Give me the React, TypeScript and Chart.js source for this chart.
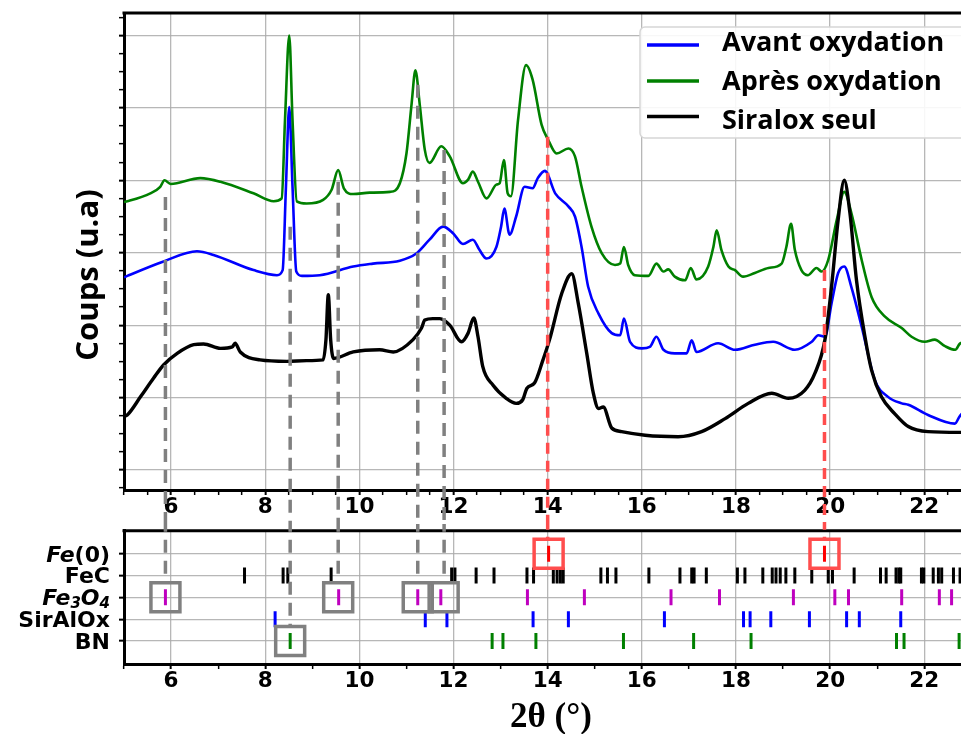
import { useEffect, useRef } from 'react';
import { Chart, registerables } from 'chart.js';
Chart.register(...registerables);

// ---------- DATA (2θ in degrees, counts in arbitrary units) ----------
const avantOxydation: [number, number][] = [
  [5.0, 2.66], [5.07, 2.68], [5.84, 2.88], [6.55, 3.02], [6.9, 2.97], [7.75, 2.76], [8.25, 2.69],
  [8.37, 2.76], [8.44, 3.91], [8.51, 5.01], [8.58, 3.91], [8.66, 2.74], [8.78, 2.68], [9.16, 2.69],
  [9.87, 2.81], [10.29, 2.85], [10.86, 2.89], [11.21, 2.99], [11.49, 3.18], [11.78, 3.36], [11.99, 3.27],
  [12.2, 3.12], [12.41, 3.18], [12.55, 3.04], [12.7, 2.92], [12.91, 3.08], [13.01, 3.36], [13.08, 3.61],
  [13.19, 3.25], [13.33, 3.5], [13.51, 3.91], [13.68, 3.89], [13.79, 4.03], [13.94, 4.13], [14.16, 3.82],
  [14.44, 3.64], [14.58, 3.5], [14.72, 3.08], [14.86, 2.53], [15.08, 2.16], [15.36, 1.89], [15.54, 1.86],
  [15.62, 2.09], [15.75, 1.77], [16.0, 1.68], [16.17, 1.7], [16.31, 1.84], [16.46, 1.66], [16.7, 1.61],
  [16.95, 1.61], [17.06, 1.79], [17.16, 1.63], [17.62, 1.75], [17.98, 1.66], [18.4, 1.73], [18.79, 1.77],
  [19.25, 1.66], [19.61, 1.77], [19.75, 1.86], [19.89, 1.84], [20.03, 2.3], [20.17, 2.72], [20.3, 2.81],
  [20.45, 2.53], [20.67, 1.98], [20.95, 1.24], [21.23, 1.01], [21.52, 0.92], [21.66, 0.9], [22.08, 0.76],
  [22.65, 0.64], [22.75, 0.74], [22.8, 0.78],
];

const apresOxydation: [number, number][] = [
  [5.0, 3.7], [5.07, 3.71], [5.56, 3.82], [5.77, 3.91], [5.86, 4.0], [5.99, 3.95], [6.62, 4.03],
  [7.05, 3.98], [7.75, 3.82], [8.18, 3.71], [8.35, 3.75], [8.42, 4.83], [8.51, 6.0], [8.58, 4.83],
  [8.67, 3.71], [8.88, 3.68], [9.23, 3.73], [9.41, 3.87], [9.55, 4.14], [9.67, 3.89], [9.87, 3.81],
  [10.22, 3.83], [10.65, 3.84], [10.86, 3.96], [11.0, 4.37], [11.11, 5.06], [11.19, 5.52], [11.28, 5.06],
  [11.39, 4.42], [11.49, 4.24], [11.74, 4.47], [11.92, 4.33], [12.2, 3.96], [12.31, 4.01], [12.41, 4.12],
  [12.52, 3.98], [12.7, 3.75], [12.91, 3.94], [12.98, 3.96], [13.07, 4.28], [13.15, 3.82], [13.22, 3.78],
  [13.37, 4.83], [13.54, 5.59], [13.68, 5.39], [13.87, 4.77], [14.01, 4.56], [14.19, 4.37], [14.44, 4.44],
  [14.58, 4.33], [14.72, 3.91], [14.93, 3.36], [15.15, 2.99], [15.43, 2.83], [15.54, 2.85], [15.62, 3.08],
  [15.71, 2.83], [15.85, 2.69], [16.14, 2.68], [16.31, 2.85], [16.46, 2.74], [16.56, 2.77], [16.7, 2.67],
  [16.92, 2.62], [17.04, 2.79], [17.16, 2.63], [17.41, 2.81], [17.52, 3.08], [17.59, 3.31], [17.69, 3.04],
  [17.84, 2.81], [17.98, 2.76], [18.15, 2.67], [18.4, 2.72], [18.69, 2.79], [18.97, 2.85], [19.07, 3.08],
  [19.17, 3.4], [19.25, 3.04], [19.39, 2.76], [19.53, 2.69], [19.71, 2.79], [19.82, 2.74], [19.96, 2.9],
  [20.14, 3.45], [20.3, 3.84], [20.45, 3.55], [20.67, 2.9], [20.88, 2.39], [21.16, 2.12], [21.52, 1.96],
  [21.73, 1.84], [22.01, 1.77], [22.22, 1.8], [22.44, 1.71], [22.66, 1.66], [22.75, 1.74], [22.8, 1.76],
];

const siraloxSeul: [number, number][] = [
  [5.0, 0.74], [5.07, 0.76], [5.35, 1.01], [5.63, 1.27], [5.84, 1.45], [6.13, 1.61], [6.48, 1.73],
  [6.69, 1.74], [7.05, 1.68], [7.3, 1.7], [7.36, 1.75], [7.47, 1.63], [7.89, 1.52], [8.46, 1.5],
  [8.88, 1.51], [9.23, 1.52], [9.29, 1.8], [9.34, 2.42], [9.39, 1.8], [9.45, 1.54], [9.87, 1.63],
  [10.43, 1.66], [10.72, 1.63], [11.14, 1.8], [11.32, 1.96], [11.39, 2.07], [11.56, 2.09], [11.71, 2.09],
  [11.92, 2.0], [12.17, 1.77], [12.31, 1.89], [12.43, 2.1], [12.52, 1.84], [12.62, 1.43], [12.84, 1.17],
  [13.12, 0.99], [13.33, 0.92], [13.47, 0.97], [13.56, 1.13], [13.72, 1.2], [13.9, 1.52], [14.04, 1.8],
  [14.3, 2.44], [14.51, 2.71], [14.65, 2.3], [14.83, 1.61], [14.97, 1.06], [15.08, 0.85], [15.18, 0.87],
  [15.36, 0.58], [15.57, 0.53], [16.07, 0.48], [16.77, 0.46], [17.27, 0.53], [17.77, 0.71], [18.26, 0.92],
  [18.76, 1.06], [19.11, 0.99], [19.46, 1.1], [19.68, 1.34], [19.89, 1.8], [20.03, 2.53], [20.17, 3.45],
  [20.3, 4.0], [20.42, 3.55], [20.56, 2.62], [20.74, 1.84], [20.88, 1.38], [21.09, 1.01], [21.37, 0.78],
  [21.66, 0.6], [22.08, 0.53], [22.75, 0.52], [22.8, 0.52],
];

const seriesNames = ['Avant oxydation', 'Après oxydation', 'Siralox seul'];
const xTickLabels = [6, 8, 10, 12, 14, 16, 18, 20, 22];

// reference lines (2θ), where they start on the top panel, and the phase row they lead to
const grayRefLines = [5.88, 8.53, 9.55, 11.24, 11.8];
const grayLineTops = [3.77, 3.36, 3.98, 5.32, 4.42];
const grayLineRows = [2, 4, 2, 2, 2];
const redRefLines = [14.0, 19.88];
const redLineTops = [4.6, 2.76];
const redLineRows = [0, 0];

// bottom panel: phases and their reflections
const phaseRows = ['Fe(0)', 'FeC', 'Fe3O4', 'SirAlOx', 'BN'];
const fe0Peaks = [14.02, 19.88];
const fecPeaks = [7.56, 8.38, 8.48, 9.4, 11.96, 12.03, 12.48, 12.86, 13.56, 13.7, 14.12, 14.2, 14.27, 14.33,
  15.13, 15.27, 15.45, 16.15, 16.81, 17.06, 17.11, 17.37, 18.03, 18.19, 18.57, 18.77, 18.85, 18.94, 19.06,
  19.25, 19.61, 19.96, 20.05, 20.51, 21.07, 21.19, 21.4, 21.46, 21.5, 21.94, 21.99, 22.19, 22.3, 22.37, 22.62, 22.76];
const fe3o4Peaks = [5.88, 9.56, 11.24, 11.73, 13.57, 14.78, 16.62, 17.65, 19.22, 20.1, 20.39, 21.52, 22.32, 22.58];
const siraloxPeaks = [8.21, 11.4, 11.86, 13.69, 14.44, 16.48, 18.16, 18.3, 18.74, 19.56, 20.35, 20.62, 21.5];
const bnPeaks = [8.53, 12.82, 13.05, 13.75, 15.61, 17.1, 18.32, 21.41, 21.57, 22.74];
const grayBoxes: [number, number][] = [[5.88, 2], [9.55, 2], [11.24, 2], [11.79, 2], [8.53, 4]];
const redBoxes: [number, number][] = [[14.02, 0], [19.88, 0]];

// ---------- STYLE ----------
const GRID = 'rgba(170,170,170,0.85)';
const GRAY_DASH = '#808080';
const RED_DASH = '#ff4d4d';
const X_MIN = 5;
const X_MAX = 22.78;
const TICK_FONT = { family: 'DejaVu Sans', weight: 'bold' as const, size: 21.5 };

const near = (v: number, t: number) => Math.abs(v - t) < 1e-6;
const isEven = (v: number) => xTickLabels.some((t) => near(t, v));
const isInt = (v: number) => near(v, Math.round(v));

const toXY = (arr: [number, number][]) => arr.map(([x, y]) => ({ x, y }));

const topDecor = {
  id: 'topDecor',
  beforeDatasetsDraw(chart: any) {
    const { ctx, chartArea } = chart;
    ctx.save();
    ctx.strokeStyle = '#000';
    ctx.lineWidth = 3;
    ctx.beginPath();
    ctx.moveTo(chartArea.left - 1.5, chartArea.top);
    ctx.lineTo(chartArea.right + 2, chartArea.top);
    ctx.stroke();
    ctx.restore();
  },
  afterDraw(chart: any) {
    const { ctx } = chart;
    ctx.save();
    // y axis title
    ctx.translate(89, 275);
    ctx.rotate(-Math.PI / 2);
    ctx.font = 'bold 31px "Open Sans"';
    ctx.fillStyle = '#000';
    ctx.textAlign = 'center';
    ctx.textBaseline = 'middle';
    ctx.fillText('Coups (u.a)', 0, 0);
    ctx.restore();

    // legend
    ctx.save();
    const bx = 640, by = 27, bw = 340, bh = 111, r = 5;
    ctx.beginPath();
    ctx.moveTo(bx + r, by);
    ctx.lineTo(bx + bw, by);
    ctx.lineTo(bx + bw, by + bh);
    ctx.lineTo(bx + r, by + bh);
    ctx.arcTo(bx, by + bh, bx, by + bh - r, r);
    ctx.lineTo(bx, by + r);
    ctx.arcTo(bx, by, bx + r, by, r);
    ctx.closePath();
    ctx.fillStyle = 'rgba(255,255,255,0.9)';
    ctx.fill();
    ctx.strokeStyle = '#d6d6d6';
    ctx.lineWidth = 1.5;
    ctx.stroke();
    const colors = ['#0000ff', '#008000', '#000000'];
    const lineYs = [45, 81, 116.5];
    const textYs = [50.5, 89.5, 128.5];
    ctx.font = 'bold 27px "Open Sans"';
    ctx.textAlign = 'left';
    ctx.textBaseline = 'alphabetic';
    seriesNames.forEach((name, i) => {
      ctx.strokeStyle = colors[i];
      ctx.lineWidth = 3.5;
      ctx.beginPath();
      ctx.moveTo(647, lineYs[i]);
      ctx.lineTo(699, lineYs[i]);
      ctx.stroke();
      ctx.fillStyle = '#000';
      ctx.fillText(name, 722, textYs[i]);
    });
    ctx.restore();
  },
};

const phaseLabelParts: { t: string; it: boolean; sub: boolean }[][] = [
  [{ t: 'Fe', it: true, sub: false }, { t: '(0)', it: false, sub: false }],
  [{ t: 'FeC', it: false, sub: false }],
  [{ t: 'Fe', it: true, sub: false }, { t: '3', it: true, sub: true }, { t: 'O', it: true, sub: false }, { t: '4', it: true, sub: true }],
  [{ t: 'SirAlOx', it: false, sub: false }],
  [{ t: 'BN', it: false, sub: false }],
];

const bottomDecor = {
  id: 'bottomDecor',
  beforeDatasetsDraw(chart: any) {
    const { ctx, chartArea } = chart;
    ctx.save();
    ctx.strokeStyle = '#000';
    ctx.lineWidth = 3;
    ctx.beginPath();
    ctx.moveTo(chartArea.left - 1.5, chartArea.top);
    ctx.lineTo(chartArea.right + 2, chartArea.top);
    ctx.stroke();
    ctx.restore();
  },
  afterDraw(chart: any) {
    const { ctx } = chart;
    const yScale = chart.scales.y;
    ctx.save();
    ctx.fillStyle = '#000';
    ctx.textBaseline = 'alphabetic';
    ctx.textAlign = 'left';
    const mainSize = 22, subSize = 15;
    phaseLabelParts.forEach((parts, i) => {
      const base = yScale.getPixelForValue(i) + 8;
      const fontFor = (p: any) =>
        `${p.it ? 'italic ' : ''}bold ${p.sub ? subSize : mainSize}px "DejaVu Sans"`;
      let total = 0;
      parts.forEach((p) => {
        ctx.font = fontFor(p);
        total += ctx.measureText(p.t).width;
      });
      let x = 110 - total;
      parts.forEach((p) => {
        ctx.font = fontFor(p);
        ctx.fillText(p.t, x, base + (p.sub ? 3 : 0));
        x += ctx.measureText(p.t).width;
      });
    });
    // x axis title
    ctx.font = 'bold 35px "Liberation Serif"';
    ctx.textAlign = 'center';
    ctx.fillText('2θ (°)', 551, 202.5);
    ctx.restore();
  },
};

function TopChart() {
  const ref = useRef<HTMLCanvasElement>(null);
  useEffect(() => {
    const dashSets: any[] = [];
    grayRefLines.forEach((x, i) => {
      dashSets.push({
        type: 'line', data: [{ x, y: grayLineTops[i] }, { x, y: -1.2 }],
        borderColor: GRAY_DASH, borderWidth: 3.5, borderDash: [13, 8], pointRadius: 0, clip: false, order: 0,
      });
    });
    redRefLines.forEach((x, i) => {
      dashSets.push({
        type: 'line', data: [{ x, y: redLineTops[i] }, { x, y: -1.2 }],
        borderColor: RED_DASH, borderWidth: 3.5, borderDash: [11, 7], pointRadius: 0, clip: false, order: 0,
      });
    });
    const chart = new Chart(ref.current as HTMLCanvasElement, {
      type: 'line',
      data: {
        datasets: [
          ...dashSets,
          { label: seriesNames[0], data: toXY(avantOxydation), borderColor: '#0000ff', borderWidth: 2.6, pointRadius: 0, cubicInterpolationMode: 'monotone', order: 3 },
          { label: seriesNames[1], data: toXY(apresOxydation), borderColor: '#008000', borderWidth: 2.6, pointRadius: 0, cubicInterpolationMode: 'monotone', order: 2 },
          { label: seriesNames[2], data: toXY(siraloxSeul), borderColor: '#000000', borderWidth: 3.4, pointRadius: 0, cubicInterpolationMode: 'monotone', order: 1 },
        ],
      },
      options: {
        animation: false,
        responsive: false,
        events: [],
        layout: { autoPadding: false, padding: { left: 0, right: 0, top: 13, bottom: 0 } },
        plugins: { legend: { display: false }, tooltip: { enabled: false } },
        scales: {
          x: {
            type: 'linear', min: X_MIN, max: X_MAX,
            afterFit: (s: any) => { s.height = 34; },
            ticks: {
              stepSize: 0.5, autoSkip: false, includeBounds: false, maxRotation: 0, minRotation: 0, padding: 0,
              color: '#000', font: TICK_FONT,
              callback: (v: any) => (isEven(Number(v)) ? String(Math.round(Number(v))) : ''),
            },
            grid: {
              color: (c: any) => (isEven(c.tick.value) ? GRID : 'rgba(0,0,0,0)'),
              lineWidth: 1.3, tickColor: '#000', tickLength: 5,
              tickWidth: (c: any) => (isEven(c.tick.value) ? 2 : 1.5),
            },
            border: { color: '#000', width: 3 },
          },
          y: {
            type: 'linear', min: -0.276, max: 6.31,
            afterFit: (s: any) => { s.width = 124; },
            ticks: {
              stepSize: 0.25, autoSkip: false, includeBounds: false, padding: 0,
              font: { size: 6 }, callback: () => '',
            },
            grid: {
              color: (c: any) => (isInt(c.tick.value) ? GRID : 'rgba(0,0,0,0)'),
              lineWidth: 1.3, tickColor: '#000', tickLength: 5,
              tickWidth: (c: any) => (isInt(c.tick.value) ? 2 : 1.5),
            },
            border: { color: '#000', width: 3 },
          },
        },
      } as any,
      plugins: [topDecor],
    } as any);
    return () => chart.destroy();
  }, []);
  return (
    <canvas
      ref={ref}
      width={961}
      height={524}
      style={{ position: 'absolute', left: 0, top: 0, width: 961, height: 524 }}
    />
  );
}

function BottomChart() {
  const ref = useRef<HTMLCanvasElement>(null);
  useEffect(() => {
    const datasets: any[] = [];
    grayRefLines.forEach((x, i) => {
      datasets.push({
        type: 'line', data: [{ x, y: -1.6 }, { x, y: grayLineRows[i] - 0.68 }], showLine: true,
        borderColor: GRAY_DASH, borderWidth: 3.5, borderDash: [13, 8], pointRadius: 0, clip: false, order: 0,
      });
    });
    redRefLines.forEach((x, i) => {
      datasets.push({
        type: 'line', data: [{ x, y: -1.6 }, { x, y: redLineRows[i] - 0.68 }], showLine: true,
        borderColor: RED_DASH, borderWidth: 3.5, borderDash: [11, 7], pointRadius: 0, clip: false, order: 0,
      });
    });
    datasets.push({
      data: grayBoxes.map(([x, y]) => ({ x, y })), pointStyle: 'rect', pointRadius: 20.5,
      borderColor: GRAY_DASH, borderWidth: 3.5, backgroundColor: 'rgba(0,0,0,0)', order: 1,
    });
    datasets.push({
      data: redBoxes.map(([x, y]) => ({ x, y })), pointStyle: 'rect', pointRadius: 20.5,
      borderColor: RED_DASH, borderWidth: 3.5, backgroundColor: 'rgba(0,0,0,0)', order: 1,
    });
    const phases: [number[], string][] = [
      [fe0Peaks, '#ff0000'], [fecPeaks, '#000000'], [fe3o4Peaks, '#bf00bf'], [siraloxPeaks, '#0000ff'], [bnPeaks, '#008000'],
    ];
    phases.forEach(([peaks, color], row) => {
      datasets.push({
        label: phaseRows[row],
        data: peaks.map((x) => ({ x, y: row })), pointStyle: 'line', pointRotation: 90, pointRadius: 8,
        borderColor: color, borderWidth: 3, order: 2,
      });
    });
    const chart = new Chart(ref.current as HTMLCanvasElement, {
      type: 'scatter',
      data: { datasets },
      options: {
        animation: false,
        responsive: false,
        events: [],
        layout: { autoPadding: false, padding: { left: 0, right: 0, top: 6.7, bottom: 0 } },
        plugins: { legend: { display: false }, tooltip: { enabled: false } },
        scales: {
          x: {
            type: 'linear', min: X_MIN, max: X_MAX,
            afterFit: (s: any) => { s.height = 70; },
            ticks: {
              stepSize: 1, autoSkip: false, includeBounds: false, maxRotation: 0, minRotation: 0, padding: 0,
              color: '#000', font: TICK_FONT,
              callback: (v: any) => (isEven(Number(v)) ? String(Math.round(Number(v))) : ''),
            },
            grid: {
              color: (c: any) => (isEven(c.tick.value) ? GRID : 'rgba(0,0,0,0)'),
              lineWidth: 1.3, tickColor: '#000', tickLength: 5,
              tickWidth: (c: any) => (isEven(c.tick.value) ? 2 : 1.5),
            },
            border: { color: '#000', width: 3 },
          },
          y: {
            type: 'linear', min: -1.05, max: 5.05, reverse: true,
            afterFit: (s: any) => { s.width = 124; },
            afterBuildTicks: (s: any) => { s.ticks = phaseRows.map((_, i) => ({ value: i })); },
            ticks: { autoSkip: false, padding: 0, font: { size: 6 }, callback: () => '' },
            grid: { color: GRID, lineWidth: 1.3, tickColor: '#000', tickLength: 5, tickWidth: 2 },
            border: { color: '#000', width: 3 },
          },
        },
      } as any,
      plugins: [bottomDecor],
    } as any);
    return () => chart.destroy();
  }, []);
  return (
    <canvas
      ref={ref}
      width={961}
      height={210}
      style={{ position: 'absolute', left: 0, top: 524, width: 961, height: 210 }}
    />
  );
}

export default function App() {
  return (
    <div
      style={{
        position: 'fixed', left: 0, top: 0, width: 961, height: 734,
        background: '#ffffff', overflow: 'hidden',
      }}
    >
      <TopChart />
      <BottomChart />
    </div>
  );
}
